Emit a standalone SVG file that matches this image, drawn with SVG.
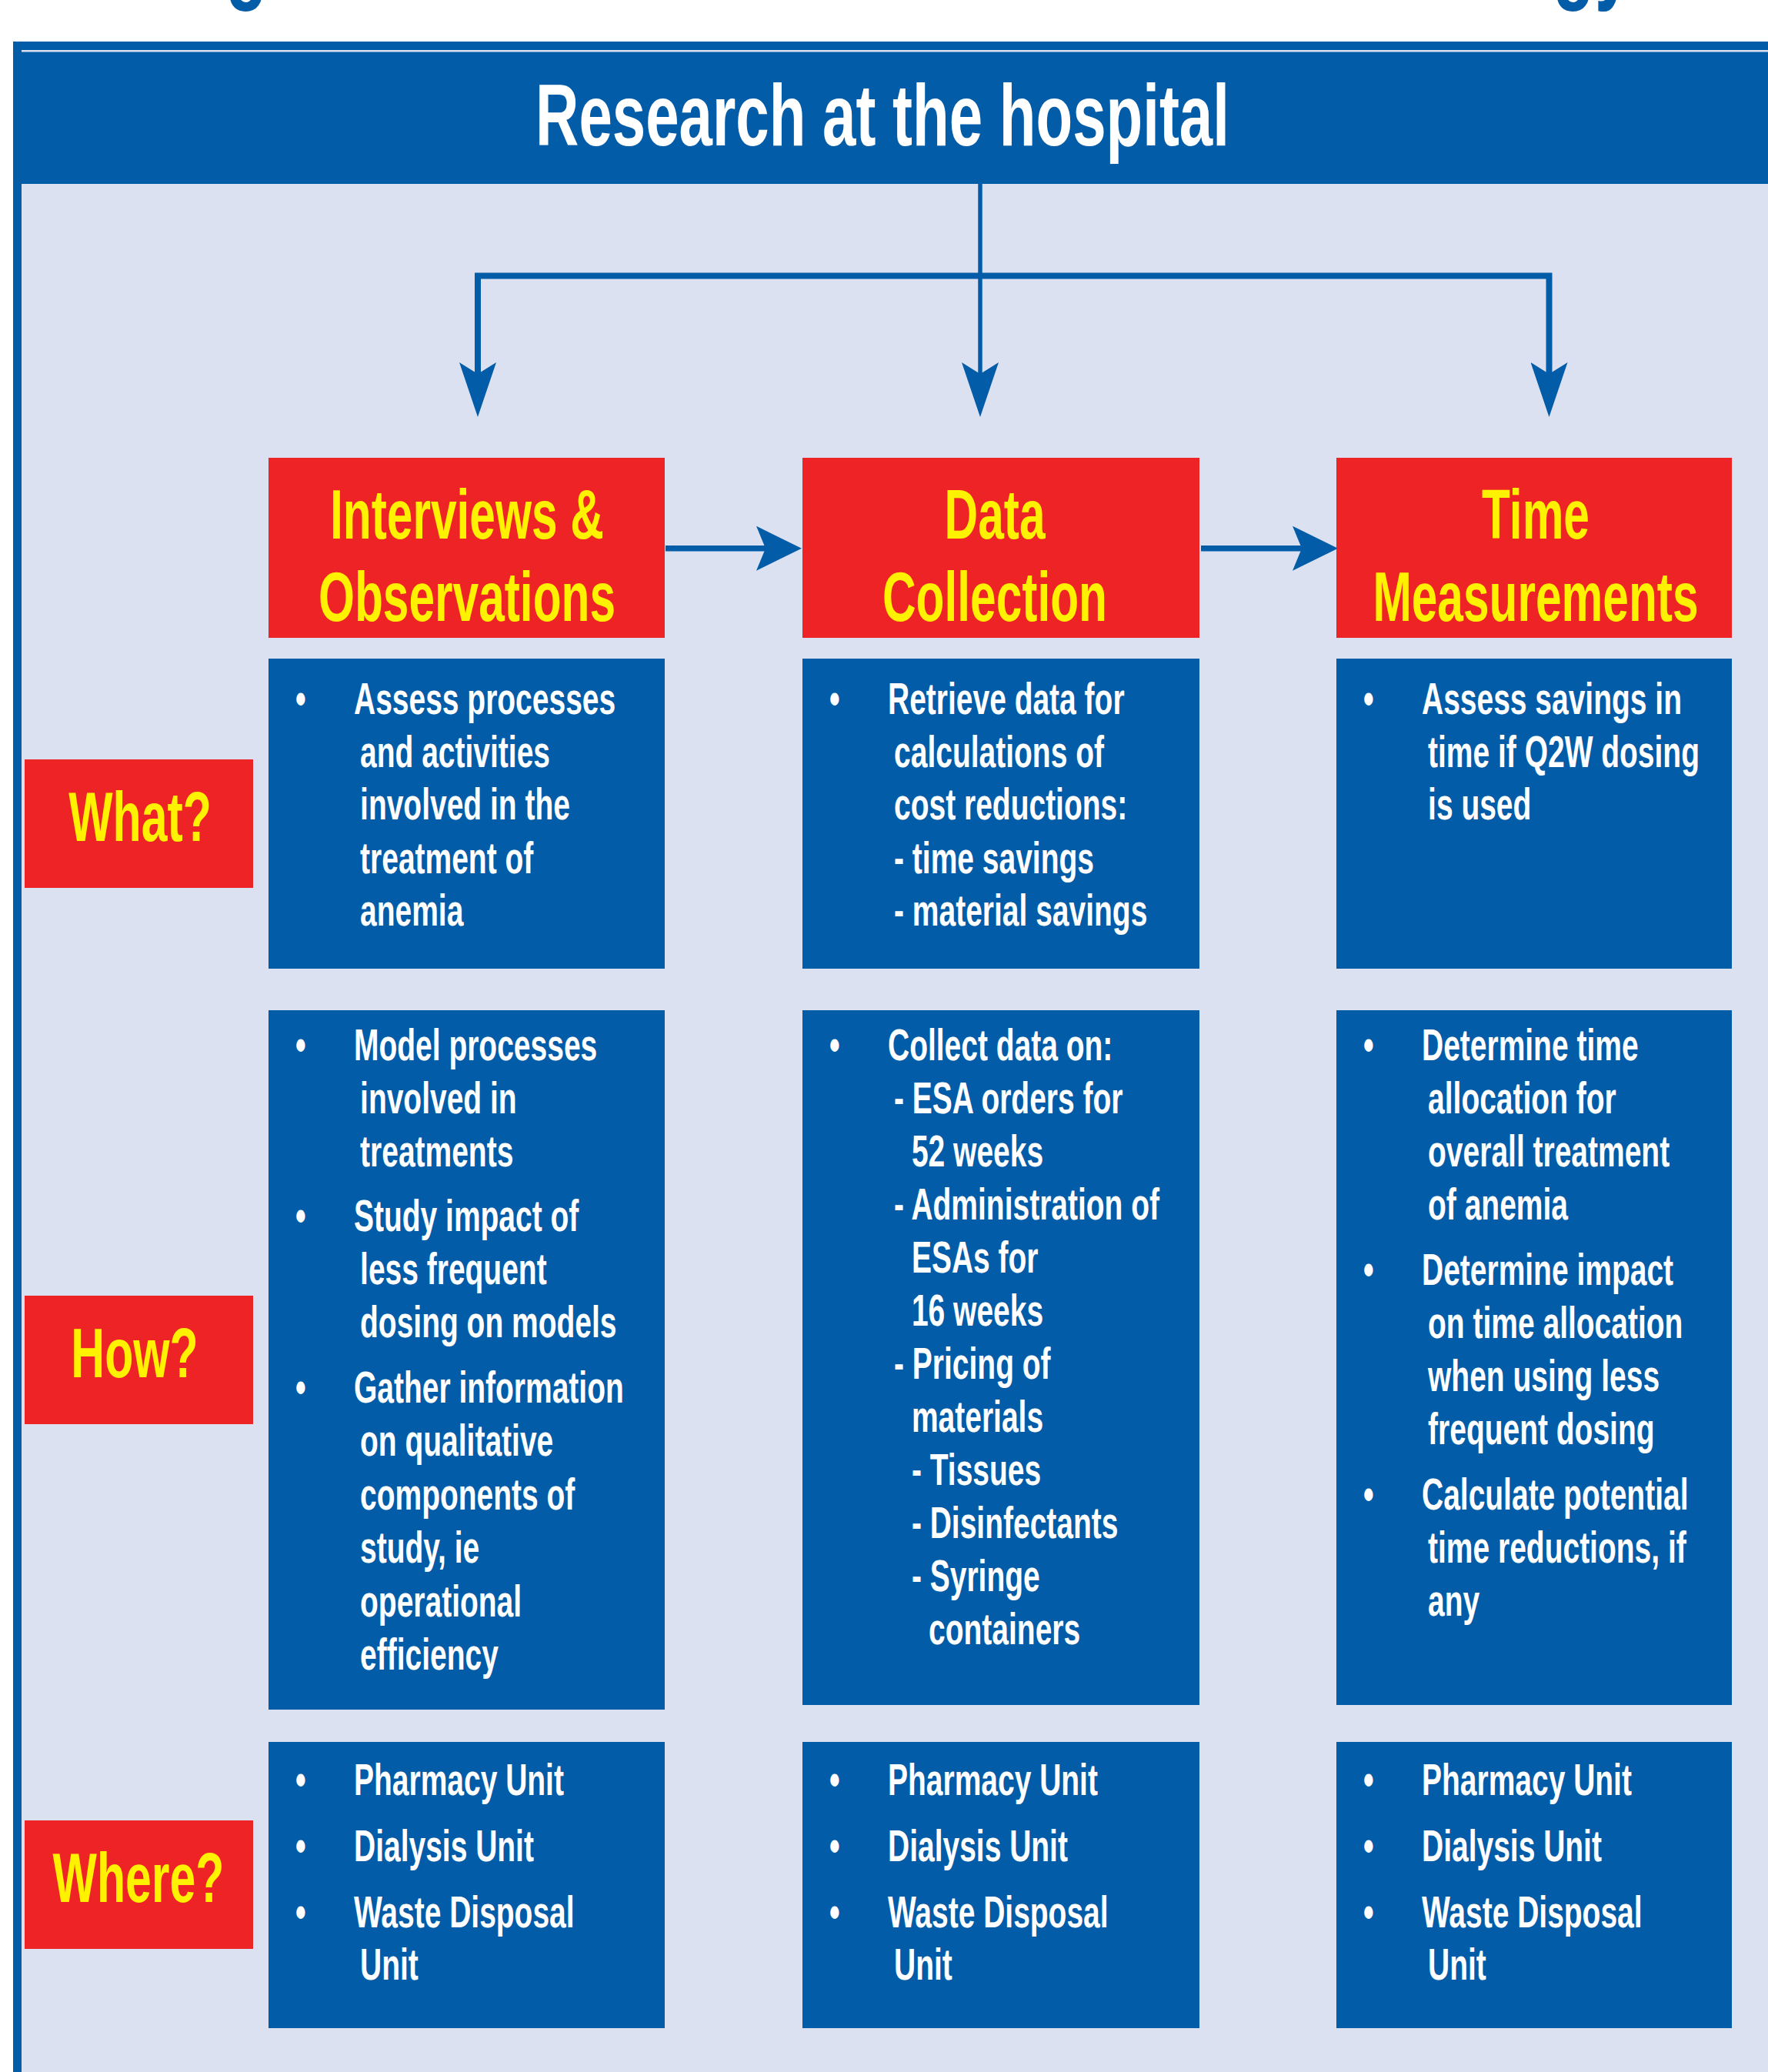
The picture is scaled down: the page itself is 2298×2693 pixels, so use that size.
<svg xmlns="http://www.w3.org/2000/svg" width="2298" height="2693" viewBox="0 0 2298 2693">
<style>
text{font-family:"Liberation Sans",Arial,sans-serif;font-weight:bold}
.bt{font-size:58px;fill:#FFFFFF}
.bl{font-size:58px;fill:#FFFFFF;text-anchor:middle}
.hd{font-size:91px;fill:#FFF200;text-anchor:middle}
.ttl{font-size:114px;fill:#FFFFFF;text-anchor:middle}
.frag{font-size:134px;fill:#035CA8}
.red{fill:#EE2325}
.blue{fill:#035CA8}
.ln{fill:none;stroke:#035CA8;stroke-linejoin:miter}
</style>
<defs>
<marker id="adown" viewBox="0 0 71 48" refX="15" refY="24" markerWidth="71" markerHeight="48" markerUnits="userSpaceOnUse" orient="auto-start-reverse">
<path d="M0,0 L71,24 L0,48 L15,24 Z" fill="#035CA8"/>
</marker>
<marker id="aright" viewBox="0 0 59 58" refX="12" refY="29" markerWidth="59" markerHeight="58" markerUnits="userSpaceOnUse" orient="auto">
<path d="M0,0 L59,29 L0,58 L12,29 Z" fill="#035CA8"/>
</marker>
</defs>
<rect width="2298" height="2693" fill="#FFFFFF"/>
<g id="heading-fragment">
<g transform="translate(293,0) scale(0.67,1)"><text class="frag" x="0" y="-13">g</text></g>
<g transform="translate(2018,0) scale(0.67,1)"><text class="frag" x="0" y="-13">gy</text></g>
</g>
<g id="panel">
<rect x="17" y="54" width="2281" height="2639" class="blue"/>
<rect x="28" y="65" width="2270" height="2.5" fill="#DBE1F1"/>
<rect x="28" y="239" width="2270" height="2454" fill="#DBE1F1"/>
</g>
<g id="title">
<g transform="translate(1147,0) scale(0.6845,1)"><text class="ttl" x="0" y="189">Research at the hospital</text></g>
</g>
<g id="connectors">
<path class="ln" d="M1274,239 V486" stroke-width="5.5" marker-end="url(#adown)"/>
<path class="ln" d="M621,486 V358.6 H2013.5 V486" stroke-width="8" marker-start="url(#adown)" marker-end="url(#adown)"/>
<path class="ln" d="M865,712.7 H995" stroke-width="7.5" marker-end="url(#aright)"/>
<path class="ln" d="M1561,712.7 H1692" stroke-width="7.5" marker-end="url(#aright)"/>
</g>
<g id="label-what">
<rect x="32" y="987" width="297" height="167" class="red"/>
<g transform="translate(182,0) scale(0.668,1)"><text class="hd" x="0" y="1093">What?</text></g>
</g>
<g id="label-how">
<rect x="32" y="1684" width="297" height="167" class="red"/>
<g transform="translate(175,0) scale(0.668,1)"><text class="hd" x="0" y="1790">How?</text></g>
</g>
<g id="label-where">
<rect x="32" y="2366" width="297" height="167" class="red"/>
<g transform="translate(180,0) scale(0.668,1)"><text class="hd" x="0" y="2472">Where?</text></g>
</g>
<g id="head-interviews">
<rect x="349" y="595" width="515" height="234" class="red"/>
<g transform="translate(607,0) scale(0.664,1)"><text class="hd" x="0" y="700">Interviews &amp;</text><text class="hd" x="0" y="807">Observations</text></g>
</g>
<g id="head-data">
<rect x="1043" y="595" width="516" height="234" class="red"/>
<g transform="translate(1293,0) scale(0.664,1)"><text class="hd" x="0" y="700">Data</text><text class="hd" x="0" y="807">Collection</text></g>
</g>
<g id="head-time">
<rect x="1737" y="595" width="514" height="234" class="red"/>
<g transform="translate(1996,0) scale(0.664,1)"><text class="hd" x="0" y="700">Time</text><text class="hd" x="0" y="807">Measurements</text></g>
</g>
<g id="what-interviews">
<rect x="349" y="856" width="515" height="403" class="blue"/>
<g transform="translate(460,0) scale(0.672,1)">
<text class="bl" x="-103" y="928">•</text>
<text class="bt" x="0" y="928">Assess processes</text>
<text class="bt" x="12" y="997">and activities</text>
<text class="bt" x="12" y="1065">involved in the</text>
<text class="bt" x="12" y="1135">treatment of</text>
<text class="bt" x="12" y="1203">anemia</text>
</g>
</g>
<g id="what-data">
<rect x="1043" y="856" width="516" height="403" class="blue"/>
<g transform="translate(1154,0) scale(0.672,1)">
<text class="bl" x="-103" y="928">•</text>
<text class="bt" x="0" y="928">Retrieve data for</text>
<text class="bt" x="12" y="997">calculations of</text>
<text class="bt" x="12" y="1065">cost reductions:</text>
<text class="bt" x="12" y="1135">- time savings</text>
<text class="bt" x="12" y="1203">- material savings</text>
</g>
</g>
<g id="what-time">
<rect x="1737" y="856" width="514" height="403" class="blue"/>
<g transform="translate(1848,0) scale(0.672,1)">
<text class="bl" x="-103" y="928">•</text>
<text class="bt" x="0" y="928">Assess savings in</text>
<text class="bt" x="12" y="997">time if Q2W dosing</text>
<text class="bt" x="12" y="1065">is used</text>
</g>
</g>
<g id="how-interviews">
<rect x="349" y="1313" width="515" height="909" class="blue"/>
<g transform="translate(460,0) scale(0.672,1)">
<text class="bl" x="-103" y="1378">•</text>
<text class="bt" x="0" y="1378">Model processes</text>
<text class="bt" x="12" y="1447">involved in</text>
<text class="bt" x="12" y="1516">treatments</text>
<text class="bl" x="-103" y="1600">•</text>
<text class="bt" x="0" y="1600">Study impact of</text>
<text class="bt" x="12" y="1669">less frequent</text>
<text class="bt" x="12" y="1738">dosing on models</text>
<text class="bl" x="-103" y="1823">•</text>
<text class="bt" x="0" y="1823">Gather information</text>
<text class="bt" x="12" y="1892">on qualitative</text>
<text class="bt" x="12" y="1962">components of</text>
<text class="bt" x="12" y="2031">study, ie</text>
<text class="bt" x="12" y="2101">operational</text>
<text class="bt" x="12" y="2170">efficiency</text>
</g>
</g>
<g id="how-data">
<rect x="1043" y="1313" width="516" height="903" class="blue"/>
<g transform="translate(1154,0) scale(0.672,1)">
<text class="bl" x="-103" y="1378">•</text>
<text class="bt" x="0" y="1378">Collect data on:</text>
<text class="bt" x="12" y="1447">- ESA orders for</text>
<text class="bt" x="46" y="1516">52 weeks</text>
<text class="bt" x="12" y="1585">- Administration of</text>
<text class="bt" x="46" y="1654">ESAs for</text>
<text class="bt" x="46" y="1723">16 weeks</text>
<text class="bt" x="12" y="1792">- Pricing of</text>
<text class="bt" x="46" y="1861">materials</text>
<text class="bt" x="46" y="1930">- Tissues</text>
<text class="bt" x="46" y="1999">- Disinfectants</text>
<text class="bt" x="46" y="2068">- Syringe</text>
<text class="bt" x="79" y="2137">containers</text>
</g>
</g>
<g id="how-time">
<rect x="1737" y="1313" width="514" height="903" class="blue"/>
<g transform="translate(1848,0) scale(0.672,1)">
<text class="bl" x="-103" y="1378">•</text>
<text class="bt" x="0" y="1378">Determine time</text>
<text class="bt" x="12" y="1447">allocation for</text>
<text class="bt" x="12" y="1516">overall treatment</text>
<text class="bt" x="12" y="1585">of anemia</text>
<text class="bl" x="-103" y="1670">•</text>
<text class="bt" x="0" y="1670">Determine impact</text>
<text class="bt" x="12" y="1739">on time allocation</text>
<text class="bt" x="12" y="1808">when using less</text>
<text class="bt" x="12" y="1877">frequent dosing</text>
<text class="bl" x="-103" y="1962">•</text>
<text class="bt" x="0" y="1962">Calculate potential</text>
<text class="bt" x="12" y="2031">time reductions, if</text>
<text class="bt" x="12" y="2100">any</text>
</g>
</g>
<g id="where-interviews">
<rect x="349" y="2264" width="515" height="372" class="blue"/>
<g transform="translate(460,0) scale(0.672,1)">
<text class="bl" x="-103" y="2333">•</text>
<text class="bt" x="0" y="2333">Pharmacy Unit</text>
<text class="bl" x="-103" y="2419">•</text>
<text class="bt" x="0" y="2419">Dialysis Unit</text>
<text class="bl" x="-103" y="2505">•</text>
<text class="bt" x="0" y="2505">Waste Disposal</text>
<text class="bt" x="12" y="2573">Unit</text>
</g>
</g>
<g id="where-data">
<rect x="1043" y="2264" width="516" height="372" class="blue"/>
<g transform="translate(1154,0) scale(0.672,1)">
<text class="bl" x="-103" y="2333">•</text>
<text class="bt" x="0" y="2333">Pharmacy Unit</text>
<text class="bl" x="-103" y="2419">•</text>
<text class="bt" x="0" y="2419">Dialysis Unit</text>
<text class="bl" x="-103" y="2505">•</text>
<text class="bt" x="0" y="2505">Waste Disposal</text>
<text class="bt" x="12" y="2573">Unit</text>
</g>
</g>
<g id="where-time">
<rect x="1737" y="2264" width="514" height="372" class="blue"/>
<g transform="translate(1848,0) scale(0.672,1)">
<text class="bl" x="-103" y="2333">•</text>
<text class="bt" x="0" y="2333">Pharmacy Unit</text>
<text class="bl" x="-103" y="2419">•</text>
<text class="bt" x="0" y="2419">Dialysis Unit</text>
<text class="bl" x="-103" y="2505">•</text>
<text class="bt" x="0" y="2505">Waste Disposal</text>
<text class="bt" x="12" y="2573">Unit</text>
</g>
</g>
</svg>
